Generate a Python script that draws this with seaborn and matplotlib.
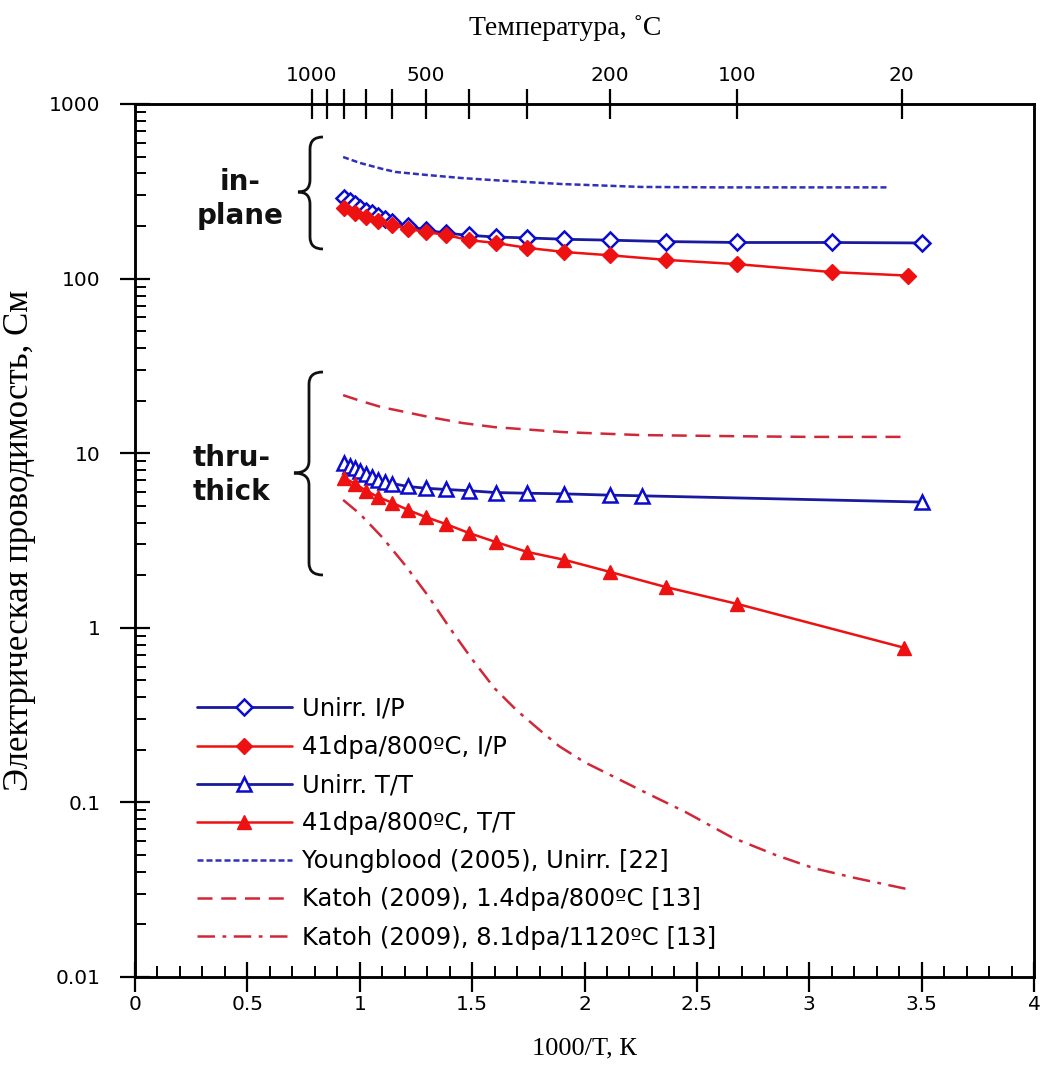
import numpy as np
import pandas as pd
import matplotlib
matplotlib.use("Agg")
import matplotlib.pyplot as plt
import seaborn as sns
from matplotlib.path import Path
from matplotlib.patches import PathPatch
from matplotlib.ticker import FixedLocator, FixedFormatter, LogLocator, NullFormatter, MultipleLocator

# ---------------- data ----------------
unirr_ip_x = [0.932, 0.955, 0.978, 1.003, 1.028, 1.055, 1.083, 1.113, 1.145, 1.215,
              1.293, 1.383, 1.486, 1.605, 1.745, 1.911, 2.113, 2.363, 2.680, 3.100, 3.500]
unirr_ip_y = [290, 278, 266, 255, 245, 236, 228, 220, 212, 200,
              190, 182, 177, 173, 171, 168, 166, 163, 161, 161, 160]

irr_ip_x = [0.932, 0.978, 1.028, 1.083, 1.145, 1.215, 1.293, 1.383, 1.486, 1.605,
            1.745, 1.911, 2.113, 2.363, 2.680, 3.100, 3.440]
irr_ip_y = [254, 238, 225, 213, 203, 193, 185, 178, 166, 160,
            150, 142, 136, 128, 121, 109, 104]

unirr_tt_x = [0.932, 0.955, 0.978, 1.003, 1.028, 1.055, 1.083, 1.113, 1.145, 1.215,
              1.293, 1.383, 1.486, 1.605, 1.745, 1.911, 2.113, 2.257, 3.500]
unirr_tt_y = [8.8, 8.5, 8.2, 7.9, 7.6, 7.3, 7.05, 6.85, 6.7, 6.45,
              6.3, 6.2, 6.1, 5.95, 5.9, 5.85, 5.75, 5.7, 5.25]

irr_tt_x = [0.932, 0.978, 1.028, 1.083, 1.145, 1.215, 1.293, 1.383, 1.486, 1.605,
            1.745, 1.911, 2.113, 2.363, 2.680, 3.420]
irr_tt_y = [7.2, 6.7, 6.1, 5.6, 5.2, 4.73, 4.31, 3.93, 3.49, 3.10,
            2.72, 2.45, 2.09, 1.71, 1.37, 0.77]

youngblood_x = [0.926, 1.0, 1.1, 1.16, 1.3, 1.45, 1.6, 1.9, 2.25, 2.6, 3.0, 3.35]
youngblood_y = [497, 460, 425, 408, 392, 377, 366, 348, 335, 333, 333, 333]

katoh14_x = [0.926, 1.0, 1.1, 1.157, 1.3, 1.455, 1.6, 1.909, 2.25, 2.7, 3.0, 3.43]
katoh14_y = [21.5, 20.0, 18.3, 17.7, 16.2, 14.9, 14.1, 13.2, 12.7, 12.5, 12.4, 12.4]

katoh81_x = [0.926, 1.0, 1.1, 1.2, 1.3, 1.4, 1.5, 1.6, 1.7, 1.8, 1.887, 2.0,
             2.247, 2.45, 2.656, 2.85, 3.02, 3.2, 3.43]
katoh81_y = [5.4, 4.5, 3.3, 2.3, 1.55, 1.0, 0.66, 0.45, 0.335, 0.26, 0.21, 0.17,
             0.118, 0.088, 0.063, 0.05, 0.042, 0.037, 0.032]

labels = ["Unirr. I/P", "41dpa/800ºC, I/P", "Unirr. T/T", "41dpa/800ºC, T/T",
          "Youngblood (2005), Unirr. [22]", "Katoh (2009), 1.4dpa/800ºC [13]",
          "Katoh (2009), 8.1dpa/1120ºC [13]"]

x_ticks = [0, 0.5, 1, 1.5, 2, 2.5, 3, 3.5, 4]
x_ticklabels = ["0", "0.5", "1", "1.5", "2", "2.5", "3", "3.5", "4"]
y_ticks = [0.01, 0.1, 1, 10, 100, 1000]
y_ticklabels = ["0.01", "0.1", "1", "10", "100", "1000"]
top_temps_c = [1000, 900, 800, 700, 600, 500, 400, 300, 200, 100, 20]
top_labels = ["1000", "", "", "", "", "500", "", "", "200", "100", "20"]

# ---------------- style ----------------
sns.set_theme(style="white")
plt.rcParams["font.family"] = ["DejaVu Sans"]
plt.rcParams["axes.linewidth"] = 1.8
plt.rcParams["text.color"] = "black"
plt.rcParams["axes.labelcolor"] = "black"
plt.rcParams["xtick.color"] = "black"
plt.rcParams["ytick.color"] = "black"

BLUE = "#1a1a9c"
BLUE_M = "#0b0bd0"
RED = "#ee1111"
YB = "#3030b8"
KAT = "#d02838"

fig = plt.figure(figsize=(10.46, 10.79), dpi=100)
L, R, T, B = 135, 1034, 104, 977
W, H = 1046, 1079
ax = fig.add_axes([L / W, (H - B) / H, (R - L) / W, (B - T) / H])
ax.set_facecolor("white")

common = dict(ax=ax, estimator=None, sort=False, legend=False)

sns.lineplot(x=unirr_ip_x, y=unirr_ip_y, color=BLUE, lw=2.0, marker="D", markersize=8,
             markerfacecolor="white", markeredgecolor=BLUE_M, markeredgewidth=1.8,
             label=labels[0], zorder=4, **common)
sns.lineplot(x=irr_ip_x, y=irr_ip_y, color=RED, lw=1.8, marker="D", markersize=8,
             markerfacecolor=RED, markeredgecolor=RED, markeredgewidth=1.0,
             label=labels[1], zorder=5, **common)
sns.lineplot(x=unirr_tt_x, y=unirr_tt_y, color=BLUE, lw=2.0, marker="^", markersize=10,
             markerfacecolor="white", markeredgecolor=BLUE_M, markeredgewidth=1.8,
             label=labels[2], zorder=4, **common)
sns.lineplot(x=irr_tt_x, y=irr_tt_y, color=RED, lw=1.8, marker="^", markersize=10,
             markerfacecolor=RED, markeredgecolor=RED, markeredgewidth=1.0,
             label=labels[3], zorder=5, **common)
sns.lineplot(x=youngblood_x, y=youngblood_y, color=YB, lw=1.8,
             linestyle=(0, (2.4, 1.2)), label=labels[4], zorder=3, **common)
sns.lineplot(x=katoh14_x, y=katoh14_y, color=KAT, lw=1.8,
             linestyle=(0, (6, 3.5)), label=labels[5], zorder=3, **common)
sns.lineplot(x=katoh81_x, y=katoh81_y, color=KAT, lw=1.8,
             linestyle=(0, (7, 3, 1.5, 3)), label=labels[6], zorder=3, **common)

ax.set_yscale("log")
ax.set_xlim(0, 4)
ax.set_ylim(0.01, 1000)

ax.xaxis.set_major_locator(FixedLocator(x_ticks))
ax.xaxis.set_major_formatter(FixedFormatter(x_ticklabels))
ax.xaxis.set_minor_locator(MultipleLocator(0.1))
ax.yaxis.set_major_locator(FixedLocator(y_ticks))
ax.yaxis.set_major_formatter(FixedFormatter(y_ticklabels))
ax.yaxis.set_minor_locator(LogLocator(base=10, subs=np.arange(2, 10), numticks=20))
ax.yaxis.set_minor_formatter(NullFormatter())

ax.tick_params(axis="x", which="major", direction="inout", length=22, width=1.6,
               labelsize=14.5, pad=2, colors="black", bottom=True, top=False)
ax.tick_params(axis="x", which="minor", direction="in", length=8, width=1.4,
               bottom=True, top=False)
ax.tick_params(axis="y", which="major", direction="inout", length=22, width=1.6,
               labelsize=14.5, pad=14, colors="black", left=True, right=False)
ax.tick_params(axis="y", which="minor", direction="in", length=8, width=1.4,
               left=True, right=False)
for sp in ax.spines.values():
    sp.set_color("black")
    sp.set_linewidth(1.8)

# top temperature axis
ax2 = ax.twiny()
ax2.set_xlim(0, 4)
top_pos = [1000.0 / (t + 273.15) for t in top_temps_c]
ax2.xaxis.set_major_locator(FixedLocator(top_pos))
ax2.xaxis.set_major_formatter(FixedFormatter(top_labels))
ax2.tick_params(axis="x", which="major", direction="inout", length=22, width=1.6,
                labelsize=14.5, pad=3, colors="black", top=True, bottom=False)
ax2.tick_params(axis="x", which="minor", top=False, bottom=False)
ax2.grid(False)
for sp in ax2.spines.values():
    sp.set_linewidth(1.8)
    sp.set_color("black")

# axis labels
serif = ["Liberation Serif", "DejaVu Serif"]
ax.set_xlabel("1000/T, К", fontsize=19, family=serif, color="black")
ax.xaxis.set_label_coords(0.5, -(1037 - B) / (B - T))
ax.set_ylabel("Электрическая проводимость, См", fontsize=25, family=serif, color="black")
ax.yaxis.set_label_coords(-(L - 36) / (R - L), 0.5)
fig.text(565 / W, 1 - 28 / H, "Температура, ˚C", fontsize=20, family=serif,
         ha="center", va="center", color="black")

# braces and group labels
def brace(x_tip, x_sp, x_end, y_top, y_mid, y_bot, r=12):
    def fx(p):
        return (p - L) / (R - L)
    def fy(p):
        return (B - p) / (B - T)
    verts = [
        (fx(x_end), fy(y_top)),
        (fx(x_sp), fy(y_top)), (fx(x_sp), fy(y_top + r)),
        (fx(x_sp), fy(y_mid - r)),
        (fx(x_sp), fy(y_mid)), (fx(x_tip), fy(y_mid)),
        (fx(x_sp), fy(y_mid)), (fx(x_sp), fy(y_mid + r)),
        (fx(x_sp), fy(y_bot - r)),
        (fx(x_sp), fy(y_bot)), (fx(x_end), fy(y_bot)),
    ]
    codes = [Path.MOVETO,
             Path.CURVE3, Path.CURVE3,
             Path.LINETO,
             Path.CURVE3, Path.CURVE3,
             Path.CURVE3, Path.CURVE3,
             Path.LINETO,
             Path.CURVE3, Path.CURVE3]
    patch = PathPatch(Path(verts, codes), transform=ax.transAxes, fill=False,
                      lw=2.0, edgecolor="#111111", clip_on=False, zorder=6)
    ax.add_patch(patch)

brace(298, 310, 323, 137, 192, 249)
brace(294, 309, 323, 372, 473, 575)

ax.text((240 - L) / (R - L), (B - 199) / (B - T), "in-\nplane", transform=ax.transAxes,
        fontsize=20, fontweight="bold", ha="center", va="center",
        multialignment="center", linespacing=1.3, color="#111111")
ax.text((193 - L) / (R - L), (B - 475) / (B - T), "thru-\nthick", transform=ax.transAxes,
        fontsize=20, fontweight="bold", ha="left", va="center",
        multialignment="left", linespacing=1.3, color="#111111")

# legend
handles, lbls = ax.get_legend_handles_labels()
leg = ax.legend(handles, lbls, loc="upper left",
                bbox_to_anchor=((197 - L) / (R - L), (B - 697) / (B - T)),
                frameon=False, fontsize=17.5, numpoints=1, handlelength=3.9,
                handletextpad=0.4, labelspacing=0.58, borderpad=0, borderaxespad=0)
for t in leg.get_texts():
    t.set_color("black")

fig.savefig("out.png", dpi=100, facecolor="white")
